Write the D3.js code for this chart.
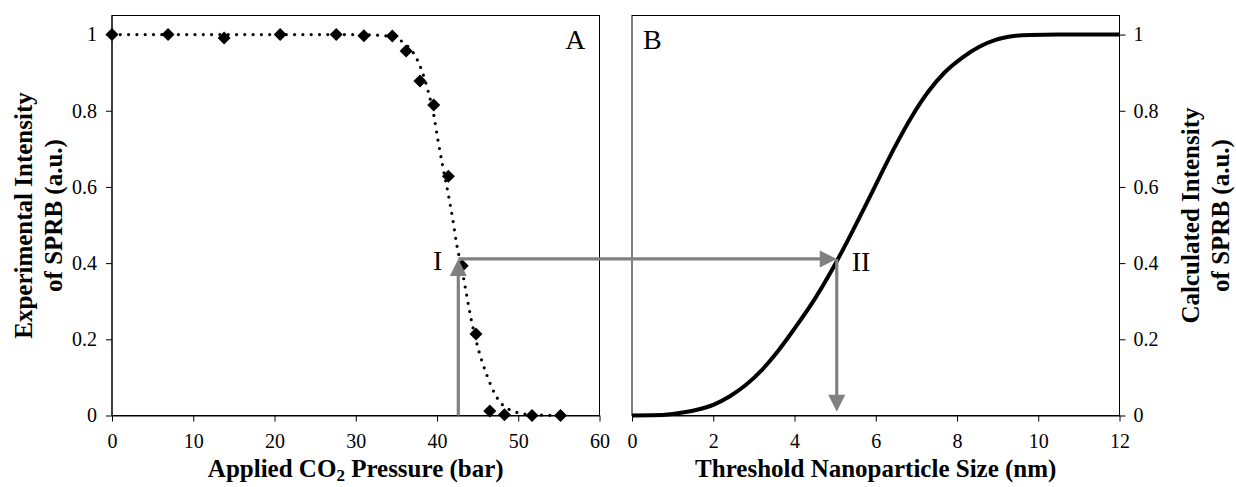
<!DOCTYPE html>
<html>
<head>
<meta charset="utf-8">
<script src="https://cdn.jsdelivr.net/npm/d3@7"></script>
<style>
  body { margin: 0; background: #fff; }
  svg { display: block; }
  text { font-family: "Liberation Serif", "Times New Roman", serif; fill: #000; }
</style>
</head>
<body>
<svg id="chart" width="1236" height="487"></svg>
<script>
// Panel A: measured SPRB intensity against applied CO2 pressure
const pressure  = [0, 6.9, 13.8, 20.7, 27.6, 31.0, 34.5, 36.2, 37.9, 39.6, 41.4, 43.1, 44.8, 46.5, 48.3, 51.7, 55.2];
const intensity = [1.0, 1.0, 0.991, 1.0, 1.0, 0.997, 0.996, 0.957, 0.878, 0.815, 0.628, 0.393, 0.214, 0.012, 0.002, 0.0, 0.0];

// Panel A: dotted fit through the measurements
const fitPressure  = [0, 10, 20, 30, 33, 34.5, 35.4, 36.2, 37.05, 38.1, 38.9, 39.6, 40.1, 40.7, 41.35, 41.95, 42.45, 43.0, 43.6, 44.2, 45.0, 46.1, 47.3, 48.1, 49.3, 50.2, 52.0, 55.2];
const fitIntensity = [1, 1, 1, 1, 0.998, 0.993, 0.986, 0.973, 0.953, 0.907, 0.852, 0.789, 0.725, 0.655, 0.585, 0.514, 0.446, 0.392, 0.322, 0.253, 0.181, 0.108, 0.05, 0.027, 0.012, 0.006, 0.002, 0];

// Panel B: calculated SPRB intensity against threshold nanoparticle size
const particleSize = [0, 0.5, 1.0, 1.6, 2.0, 2.4, 2.8, 3.2, 3.6, 4.0, 4.5, 4.9, 5.04, 5.3, 5.7, 6.1, 6.5, 6.9, 7.3, 7.7, 8.15, 8.55, 8.95, 9.4, 9.8, 10.5, 11.2, 12];
const calcIntensity = [0, 0.0005, 0.004, 0.015, 0.028, 0.05, 0.08, 0.12, 0.17, 0.228, 0.306, 0.378, 0.405, 0.457, 0.541, 0.627, 0.711, 0.787, 0.851, 0.901, 0.941, 0.968, 0.986, 0.996, 0.999, 1, 1, 1];

// Read-across: pressure I -> intensity -> size II
const readPressure = 42.62;
const readIntensity = 0.411;
const readSize = 5.04;
const readFloor = 0.01;

// Tick labels
const pressureTicks = [0, 10, 20, 30, 40, 50, 60];
const sizeTicks = [0, 2, 4, 6, 8, 10, 12];
const intensityTicks = [0, 0.2, 0.4, 0.6, 0.8, 1];

const svg = d3.select("#chart");
const plotTop = 15.5, plotBottom = 415.5;
const xA = d3.scaleLinear().domain([0, 60]).range([112, 599.5]);
const xB = d3.scaleLinear().domain([0, 12]).range([632, 1119.5]);
const y = d3.scaleLinear().domain([0, 1.05]).range([plotBottom, plotTop]);

const fmt = d => String(d);
const tickFont = "20px";

function styleAxis(g) {
  g.attr("font-family", null).attr("font-size", null);
  g.selectAll("path.domain").attr("stroke", "#000").attr("stroke-width", 1);
  g.selectAll(".tick line").attr("stroke", "#000").attr("stroke-width", 1);
  g.selectAll(".tick text").style("font-size", tickFont);
}

// frames
[xA, xB].forEach(x => {
  svg.append("rect")
    .attr("x", x.range()[0]).attr("y", plotTop)
    .attr("width", x.range()[1] - x.range()[0]).attr("height", plotBottom - plotTop)
    .attr("fill", "none").attr("stroke", "#000").attr("stroke-width", 1);
});

// axes of panel A
svg.append("g").attr("transform", `translate(0,${plotBottom})`)
  .call(d3.axisBottom(xA).tickValues(pressureTicks).tickFormat(fmt).tickSize(6).tickSizeOuter(0).tickPadding(12))
  .call(styleAxis);
svg.append("g").attr("transform", `translate(${xA.range()[0]},0)`)
  .call(d3.axisLeft(y).tickValues(intensityTicks).tickFormat(fmt).tickSize(6).tickSizeOuter(0).tickPadding(9))
  .call(styleAxis)
  .call(g => g.select("path.domain").attr("d", `M0,${plotBottom}V${plotTop}`));

// axes of panel B
svg.append("g").attr("transform", `translate(0,${plotBottom})`)
  .call(d3.axisBottom(xB).tickValues(sizeTicks).tickFormat(fmt).tickSize(6).tickSizeOuter(0).tickPadding(12))
  .call(styleAxis);
svg.append("g").attr("transform", `translate(${xB.range()[1]},0)`)
  .call(d3.axisRight(y).tickValues(intensityTicks).tickFormat(fmt).tickSize(6).tickSizeOuter(0).tickPadding(8))
  .call(styleAxis)
  .call(g => g.select("path.domain").attr("d", `M0,${plotBottom}V${plotTop}`));

// dotted fit curve (panel A)
const fitData = fitPressure.map((p, i) => [p, fitIntensity[i]]);
svg.append("path")
  .datum(fitData)
  .attr("d", d3.line().x(d => xA(d[0])).y(d => y(d[1])).curve(d3.curveMonotoneX))
  .attr("fill", "none").attr("stroke", "#000").attr("stroke-width", 3.2)
  .attr("stroke-linecap", "round").attr("stroke-dasharray", "0 8.3");

// diamond markers (panel A)
const diamond = {
  draw(ctx, size) {
    const r = Math.sqrt(size / 2);
    ctx.moveTo(0, -r); ctx.lineTo(r, 0); ctx.lineTo(0, r); ctx.lineTo(-r, 0); ctx.closePath();
  }
};
svg.append("g").selectAll("path")
  .data(pressure.map((p, i) => [p, intensity[i]]))
  .join("path")
  .attr("transform", d => `translate(${xA(d[0])},${y(d[1])})`)
  .attr("d", d3.symbol().type(diamond).size(84))
  .attr("fill", "#000");

// calculated curve (panel B)
svg.append("path")
  .datum(particleSize.map((s, i) => [s, calcIntensity[i]]))
  .attr("d", d3.line().x(d => xB(d[0])).y(d => y(d[1])).curve(d3.curveMonotoneX))
  .attr("fill", "none").attr("stroke", "#000").attr("stroke-width", 4)
  .attr("stroke-linejoin", "round");

// read-across arrows
const grey = "#808080";
const headLen = 17, headHalf = 8.5;
const ax = xA(readPressure), ay = y(readIntensity);
const bx = xB(readSize), by0 = y(readFloor);
const arrows = svg.append("g");
// up arrow from pressure axis
arrows.append("line").attr("x1", ax).attr("y1", y(0)).attr("x2", ax).attr("y2", ay + headLen - 2)
  .attr("stroke", grey).attr("stroke-width", 3.2);
arrows.append("path")
  .attr("d", `M${ax},${ay} L${ax + headHalf},${ay + headLen} L${ax - headHalf},${ay + headLen} Z`)
  .attr("fill", grey);
// across to the calculated curve
arrows.append("line").attr("x1", ax).attr("y1", ay).attr("x2", bx - headLen + 2).attr("y2", ay)
  .attr("stroke", grey).attr("stroke-width", 3.2);
arrows.append("path")
  .attr("d", `M${bx},${ay} L${bx - headLen},${ay - headHalf} L${bx - headLen},${ay + headHalf} Z`)
  .attr("fill", grey);
// down to the size axis
arrows.append("line").attr("x1", bx).attr("y1", ay).attr("x2", bx).attr("y2", by0 - headLen + 2)
  .attr("stroke", grey).attr("stroke-width", 3.2);
arrows.append("path")
  .attr("d", `M${bx},${by0} L${bx - headHalf},${by0 - headLen} L${bx + headHalf},${by0 - headLen} Z`)
  .attr("fill", grey);

// point labels and panel letters
const big = "28px";
svg.append("text").attr("x", ax - 16).attr("y", ay + 11).attr("text-anchor", "end")
  .style("font-size", big).text("I");
svg.append("text").attr("x", bx + 15).attr("y", ay + 12)
  .style("font-size", big).text("II");
svg.append("text").attr("x", xA.range()[1] - 14).attr("y", 49).attr("text-anchor", "end")
  .style("font-size", big).text("A");
svg.append("text").attr("x", xB.range()[0] + 11).attr("y", 49)
  .style("font-size", big).text("B");

// axis titles
const titleStyle = sel => sel.style("font-size", "25px").style("font-weight", "bold");
const tA = svg.append("text").attr("x", d3.mean(xA.range())).attr("y", 477)
  .attr("text-anchor", "middle").call(titleStyle);
tA.append("tspan").text("Applied CO");
tA.append("tspan").attr("dy", 4).style("font-size", "17px").text("2");
tA.append("tspan").attr("dy", -4).text(" Pressure (bar)");

svg.append("text").attr("x", d3.mean(xB.range())).attr("y", 477)
  .attr("text-anchor", "middle").call(titleStyle).text("Threshold Nanoparticle Size (nm)");

const midY = (plotTop + plotBottom) / 2;
function vTitle(x, str) {
  svg.append("text").attr("transform", `translate(${x},${midY}) rotate(-90)`)
    .attr("text-anchor", "middle").call(titleStyle).text(str);
}
vTitle(32, "Experimental Intensity");
vTitle(62, "of SPRB (a.u.)");
vTitle(1199, "Calculated Intensity");
vTitle(1229, "of SPRB (a.u.)");
</script>
</body>
</html>
